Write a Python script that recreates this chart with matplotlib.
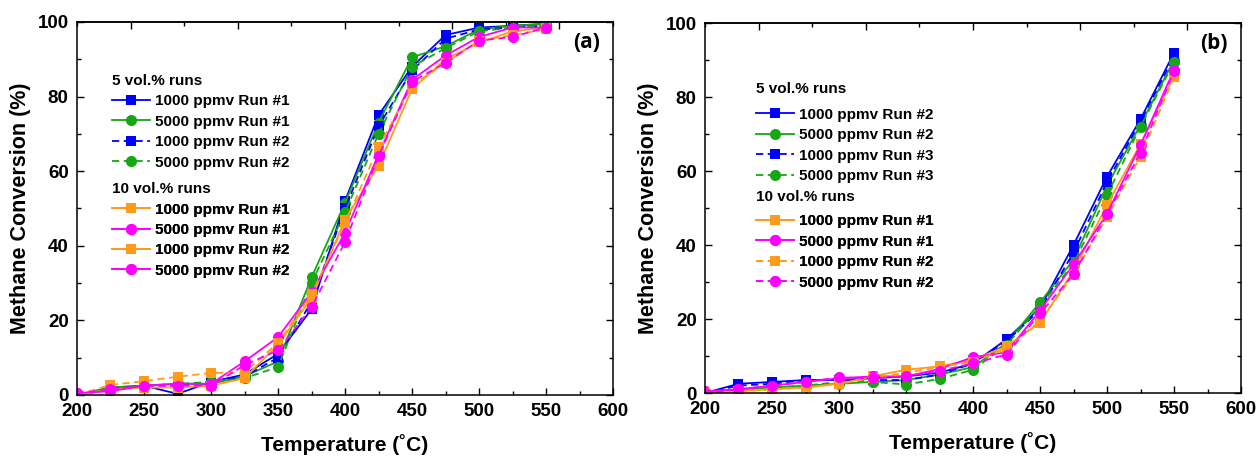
import matplotlib
matplotlib.use('Agg')
from matplotlib import pyplot as plt
from matplotlib.lines import Line2D
from matplotlib.ticker import MultipleLocator

plt.rcParams['font.family'] = 'Liberation Sans'
plt.rcParams['font.weight'] = 'bold'

temps = [200, 225, 250, 275, 300, 325, 350, 375, 400, 425, 450, 475, 500, 525, 550]

# panel (a)
a_5vol_1000_r1 = [0, 2, 2.5, 0.3, 3.5, 5.5, 11, 23, 52, 75, 88, 96.5, 98.5, 99, 99.5]
a_5vol_5000_r1 = [0, 2, 2.5, 3, 3, 5, 9, 31.5, 51.5, 73, 90.5, 93.5, 98, 99, 99.5]
a_5vol_1000_r2 = [0, 1.5, 2.5, 2.5, 3.5, 5, 10, 25, 50, 72, 87, 95.5, 98, 98.5, 99]
a_5vol_5000_r2 = [0, 1.5, 2.5, 3, 3.5, 4.5, 7.5, 30, 49, 70, 88, 93, 97.5, 98.5, 99]
a_10vol_1000_r1 = [0, 1.5, 2, 2, 2.5, 4.5, 13.5, 26, 47, 61.5, 82, 90, 94.5, 97.5, 98.5]
a_10vol_5000_r1 = [0.5, 1, 2.5, 3, 3, 9, 15.5, 27.5, 43.5, 64.5, 84.5, 91, 96, 98.5, 98.5]
a_10vol_1000_r2 = [0, 2.7, 3.7, 4.9, 5.9, 6, 14, 27, 46, 66.5, 83, 89, 95, 96.5, 98]
a_10vol_5000_r2 = [0.5, 1.5, 2.5, 2.5, 2.5, 8, 12, 23.5, 41, 64, 84, 89, 95, 96, 98.5]

# panel (b)
b_5vol_1000_r2 = [0, 2.5, 3, 3.5, 3.5, 4, 4.5, 5.5, 8, 14.5, 23, 40, 58.5, 74, 92]
b_5vol_5000_r2 = [0, 1, 1.5, 2, 2.5, 3, 3.5, 5, 7, 13.5, 24.5, 36, 56, 72.5, 90]
b_5vol_1000_r3 = [0, 2, 2.5, 3.5, 3.5, 3.5, 3.5, 5, 8, 14, 22.5, 38, 57, 73.5, 91]
b_5vol_5000_r3 = [0, 1, 1.5, 2, 3, 3, 2.3, 3.8, 6.3, 13, 23.5, 35, 53.5, 72, 89.5]
b_10vol_1000_r1 = [0, 0.5, 1, 1.5, 2.5, 4.5, 6.3, 7.2, 9, 12.6, 19, 33, 50.9, 67.3, 85.8]
b_10vol_5000_r1 = [0.5, 1, 2, 3, 4, 4.5, 4.5, 6.5, 9.7, 11, 22.3, 34.8, 48.5, 67, 87.4]
b_10vol_1000_r2 = [0, 0.5, 1, 1.5, 2.5, 4, 5.5, 7, 8.5, 12, 19.5, 32, 47.6, 63.9, 85.5]
b_10vol_5000_r2 = [0, 1, 2, 3, 4.2, 4, 4.5, 6, 8, 10.4, 21.5, 32.1, 48.3, 65, 87]

a_labels_5 = ['1000 ppmv Run #1', '5000 ppmv Run #1', '1000 ppmv Run #2', '5000 ppmv Run #2']
a_labels_10 = ['1000 ppmv Run #1', '5000 ppmv Run #1', '1000 ppmv Run #2', '5000 ppmv Run #2']
b_labels_5 = ['1000 ppmv Run #2', '5000 ppmv Run #2', '1000 ppmv Run #3', '5000 ppmv Run #3']
b_labels_10 = ['1000 ppmv Run #1', '5000 ppmv Run #1', '1000 ppmv Run #2', '5000 ppmv Run #2']

blue, green, orange, pink = '#0000ff', '#16a616', '#ff9a1a', '#ff00ff'
dash = (0, (4, 2.5))
styles_5 = [(blue, 's', '-'), (green, 'o', '-'), (blue, 's', dash), (green, 'o', dash)]
styles_10 = [(orange, 's', '-'), (pink, 'o', '-'), (orange, 's', dash), (pink, 'o', dash)]


def draw_series(ax, series, styles):
    for y, (c, m, ls) in zip(series, styles):
        ax.plot(temps, y, color=c, marker=m, linestyle=ls, lw=1.3,
                markersize=8 if m == 'o' else 7.5, markeredgewidth=0)


def add_legend(ax, labels, styles, title, title_y, anchor):
    ax.text(anchor[0], title_y, title, transform=ax.transAxes, ha='left', va='center',
            fontsize=11, fontweight='bold')
    handles = [Line2D([], [], color=c, marker=m, linestyle=ls, lw=1.3,
                      markersize=8 if m == 'o' else 7.5, markeredgewidth=0)
               for c, m, ls in styles]
    leg = ax.legend(handles, labels, loc='upper left', bbox_to_anchor=anchor,
                    frameon=False, borderaxespad=0, borderpad=0, handlelength=2.5,
                    handletextpad=0.3, labelspacing=0.42,
                    prop={'size': 11, 'weight': 'bold'})
    ax.add_artist(leg)


def style_axes(ax, tag):
    ax.set_xlim(200, 600)
    ax.set_ylim(0, 100)
    ax.xaxis.set_major_locator(MultipleLocator(50))
    ax.xaxis.set_minor_locator(MultipleLocator(25))
    ax.yaxis.set_major_locator(MultipleLocator(20))
    ax.yaxis.set_minor_locator(MultipleLocator(10))
    ax.tick_params(which='both', direction='in', top=False, right=True, width=1)
    ax.tick_params(which='major', length=5, labelsize=13.5)
    ax.tick_params(axis='x', which='major', pad=6)
    ax.tick_params(axis='y', which='major', pad=6)
    ax.tick_params(which='minor', length=3)
    for sp in ax.spines.values():
        sp.set_linewidth(1.1)
    # top axis ticks run on their own spacing
    top = ax.secondary_xaxis('top')
    top.xaxis.set_major_locator(MultipleLocator(80))
    top.xaxis.set_minor_locator(MultipleLocator(40))
    top.tick_params(which='both', direction='in', labeltop=False, width=1)
    top.tick_params(which='major', length=5)
    top.tick_params(which='minor', length=3)
    top.spines['top'].set_linewidth(1.1)
    ax.set_xlabel('Temperature (\u02daC)', fontsize=15, fontweight='bold', labelpad=10)
    ax.set_ylabel('Methane Conversion (%)', fontsize=15.5, fontweight='bold', labelpad=5)
    ax.text(0.95, 0.946, tag, transform=ax.transAxes, ha='center', va='center',
            fontsize=15, fontweight='bold', family='Open Sans')


fig = plt.figure(figsize=(12.56, 4.57), dpi=100)
ax1 = fig.add_axes([0.0613, 0.1357, 0.4268, 0.8162])
ax2 = fig.add_axes([0.5613, 0.1400, 0.4268, 0.8096])

draw_series(ax1, [a_5vol_1000_r1, a_5vol_5000_r1, a_5vol_1000_r2, a_5vol_5000_r2], styles_5)
draw_series(ax1, [a_10vol_1000_r1, a_10vol_5000_r1, a_10vol_1000_r2, a_10vol_5000_r2], styles_10)
style_axes(ax1, '(a)')
add_legend(ax1, a_labels_5, styles_5, '5 vol.% runs', 0.842, (0.065, 0.806))
# the 10 vol.% key in (a) shows every entry with a solid line
add_legend(ax1, a_labels_10, [(c, m, '-') for c, m, _ in styles_10], '10 vol.% runs',
           0.553, (0.065, 0.516))

draw_series(ax2, [b_5vol_1000_r2, b_5vol_5000_r2, b_5vol_1000_r3, b_5vol_5000_r3], styles_5)
draw_series(ax2, [b_10vol_1000_r1, b_10vol_5000_r1, b_10vol_1000_r2, b_10vol_5000_r2], styles_10)
style_axes(ax2, '(b)')
add_legend(ax2, b_labels_5, styles_5, '5 vol.% runs', 0.822, (0.095, 0.771))
add_legend(ax2, b_labels_10, styles_10, '10 vol.% runs', 0.530, (0.095, 0.483))

fig.savefig('out.png', dpi=100)
